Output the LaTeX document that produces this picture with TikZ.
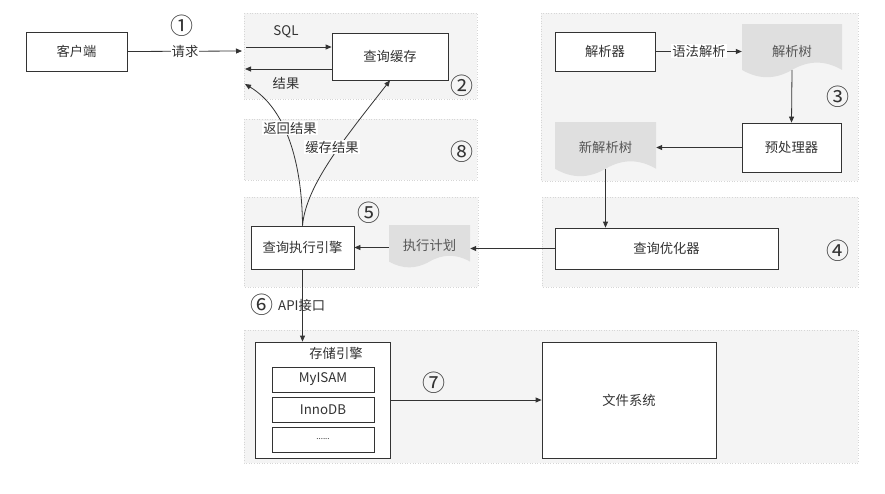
\documentclass[tikz,border=0pt]{standalone}
\usepackage{fontspec}
\setmainfont{Noto Sans CJK SC}
\usetikzlibrary{arrows.meta}
\definecolor{grp}{HTML}{F4F4F4}
\definecolor{grpline}{HTML}{D6D6D6}
\definecolor{ln}{HTML}{333333}
\definecolor{txt}{HTML}{333333}
\definecolor{doctext}{HTML}{555555}
\definecolor{docfill}{HTML}{DFDFDF}
\newcommand\docpath[4]{%
  \pgfmathsetmacro\dkw{#3-#1}%
  \pgfmathsetmacro\dkdy{0.3*(#4-#2)}%
  \pgfmathsetmacro\dkye{#4-0.5*\dkdy}%
  \pgfmathsetmacro\dkxm{(#1+#3)/2}%
  \fill[docfill] (#1,#2) -- (#3,#2) -- (#3,\dkye)
    .. controls ({#3-\dkw/6},{\dkye-0.6*\dkdy}) and ({\dkxm+\dkw/6},{\dkye-0.6*\dkdy}) .. (\dkxm,\dkye)
    .. controls ({\dkxm-\dkw/6},{\dkye+0.6*\dkdy}) and ({#1+\dkw/6},{\dkye+0.6*\dkdy}) .. (#1,\dkye) -- cycle;
}
\begin{document}
\begin{tikzpicture}[x=1pt,y=-1pt,
  font=\fontsize{13.3}{15}\selectfont, text=txt,
  grpbg/.style={fill=grp, draw=grpline, dotted, line width=0.6pt},
  box/.style={draw=ln, fill=white, line width=0.8pt, inner sep=0pt},
  doctxt/.style={inner sep=0pt, text=doctext},
  arr/.style={draw=ln, line width=0.8pt, -{Triangle[length=6pt,width=5pt]}},
  lbl/.style={fill=white, inner sep=1pt},
  num/.style={font=\fontsize{23}{23}\selectfont, inner sep=0pt}]
\useasboundingbox (0,0) rectangle (885,493);
\fill[white] (0,0) rectangle (885,493);

% group backgrounds
\path[grpbg] (244,13) rectangle (477,99);
\path[grpbg] (244,119) rectangle (477,180);
\path[grpbg] (541,13) rectangle (858,181);
\path[grpbg] (244,197) rectangle (478,287);
\path[grpbg] (542,197) rectangle (858,287);
\path[grpbg] (244,330) rectangle (858,463);

% document shapes
\docpath{742}{24}{842}{78}
\docpath{555}{122}{656}{177}
\docpath{389}{225}{470}{268}

% nodes
\node[box, minimum width=101pt, minimum height=39pt] (client) at (76.5,51.5) {客户端};
\node[box, minimum width=116pt, minimum height=47pt] (cache) at (390,56.5) {查询缓存};
\node[box, minimum width=100pt, minimum height=39pt] (parser) at (605,51.5) {解析器};
\node[doctxt, minimum width=100pt, minimum height=38pt] (ptree) at (792,51) {解析树};
\node[box, minimum width=99pt, minimum height=49pt] (pre) at (791.5,147.5) {预处理器};
\node[doctxt, minimum width=101pt, minimum height=43.5pt] (ntree) at (605.5,147) {新解析树};
\node[box, minimum width=103pt, minimum height=43pt] (engine) at (302.5,247.5) {查询执行引擎};
\node[doctxt, minimum width=81pt, minimum height=33pt] (plan) at (429.5,245) {执行计划};
\node[box, minimum width=223pt, minimum height=41pt] (opt) at (666.5,248.5) {查询优化器};
\node[box, minimum width=135pt, minimum height=116pt] (store) at (322.5,400) {};
\node (storet) at (336,353) {存储引擎};
\node[box, minimum width=102pt, minimum height=25pt] (myisam) at (323,379.5) {MyISAM};
\node[box, minimum width=102pt, minimum height=25pt] (innodb) at (323,409.5) {InnoDB};
\node[box, minimum width=102pt, minimum height=25pt] (dots) at (323,439.5) {\fontsize{8}{8}\selectfont ......};
\node[box, minimum width=174pt, minimum height=116pt] (fs) at (629,400) {文件系统};

% free ends
\coordinate (reqend) at (242,51);
\coordinate (sqlstart) at (246,47);
\coordinate (resend) at (245,69);
\coordinate (retend) at (245,84);

% connectors
\draw[arr] (client.east) -- (reqend);
\draw[arr] (sqlstart) -- (sqlstart -| cache.west);
\draw[arr] (cache.west |- resend) -- (resend);
\draw[arr] (parser.east) -- (parser.east -| ptree.west);
\draw[arr] (ptree.south) -- (pre.north);
\draw[arr] (pre.west) -- (pre.west -| ntree.east);
\draw[arr] (ntree.south) -- (ntree.south |- opt.north);
\draw[arr] (opt.west) -- (opt.west -| plan.east);
\draw[arr] (engine.east -| plan.west) -- (engine.east);
\draw[arr] (engine.south) -- (engine.south |- store.north);
\draw[arr] (store.east) -- (fs.west);
\draw[arr] (engine.north) .. controls (302,160) and (285,108) .. (retend);
\draw[arr] (engine.north) .. controls (306,185) and (345,138) .. (cache.south);

% labels
\node[lbl] at (185,51) {请求};
\node[lbl] at (699,51) {语法解析};
\node[lbl] at (290,128) {返回结果};
\node[lbl] at (332,147) {缓存结果};
\node at (286,32) {SQL};
\node at (286,83) {结果};
\node[anchor=west, inner sep=0pt] at (278,305) {API接口};

% numbers
\node[num] at (182,26) {①};
\node[num] at (462,86) {②};
\node[num] at (838,97) {③};
\node[num] at (838,251) {④};
\node[num] at (369,213) {⑤};
\node[num] at (262,305) {⑥};
\node[num] at (434,383) {⑦};
\node[num] at (462,152) {⑧};
\end{tikzpicture}
\end{document}
